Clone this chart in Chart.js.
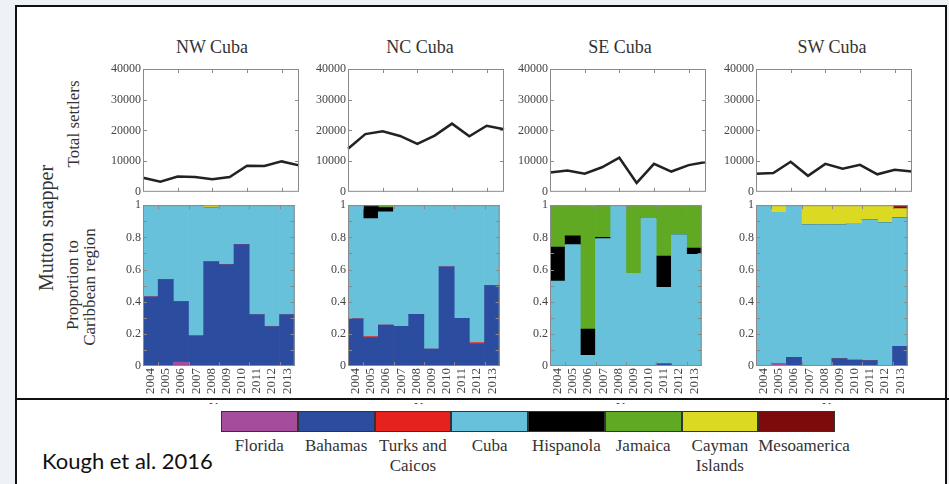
<!DOCTYPE html>
<html lang="en">
<head>
<meta charset="UTF-8">
<title>Mutton snapper settlers</title>
<style>
  html, body { margin: 0; padding: 0; width: 949px; height: 484px; overflow: hidden; background: #eef1f5; }
  body { position: relative; font-family: "Liberation Serif", "Times New Roman", serif; color: #333; }
  .frame { position: absolute; left: 15px; top: 5px; width: 932px; height: 520px; border: 2px solid #111; background: #fff; box-sizing: border-box; }
  .divider { position: absolute; left: 15px; top: 398px; width: 934px; height: 2px; background: #111; }
  canvas { position: absolute; }
  .title { position: absolute; top: 37px; font-size: 18px; transform: translateX(-50%); white-space: nowrap; }
  .vlabel { position: absolute; white-space: nowrap; transform: translate(-50%, -50%) rotate(-90deg); line-height: 1; }
  .yearclip { position: absolute; top: 400px; height: 4px; width: 40px; overflow: hidden; transform: translateX(-50%); text-align: center; }
  .yearclip span { position: relative; top: -3px; font-size: 13px; line-height: 16px; color: #333; }
  .legend { position: absolute; left: 221px; top: 411px; display: flex; }
  .legend div { width: 76.75px; height: 21px; box-sizing: border-box; border: 1px solid #333; }
  .leglabels { position: absolute; left: 221px; top: 436px; display: flex; }
  .leglabels div { width: 76.75px; text-align: center; font-size: 17px; line-height: 20px; color: #333; }
  .cite { position: absolute; left: 42px; top: 447px; font-family: "Lato", "Open Sans", sans-serif; font-size: 22px; color: #111; }
</style>
</head>
<body>
<div class="frame"></div>
<div class="divider"></div>

<div class="vlabel" style="left:46px; top:228px; font-size:20px;">Mutton snapper</div>
<div class="vlabel" style="left:73px; top:124px; font-size:17px;">Total settlers</div>
<div class="vlabel" style="left:72px; top:285px; font-size:17px;">Proportion to</div>
<div class="vlabel" style="left:89px; top:287px; font-size:17px;">Caribbean region</div>

<div id="titles"></div>
<div id="charts"></div>

<div class="legend" id="legend"></div>
<div class="leglabels" id="leglabels"></div>
<div class="cite">Kough et al. 2016</div>

<script src="https://cdn.jsdelivr.net/npm/chart.js"></script>
<script>
  // ---- data ----
  const years = ['2004', '2005', '2006', '2007', '2008', '2009', '2010', '2011', '2012', '2013'];
  const panels = ['NW Cuba', 'NC Cuba', 'SE Cuba', 'SW Cuba'];
  const regions = ['Florida', 'Bahamas', 'Turks and\nCaicos', 'Cuba', 'Hispanola', 'Jamaica', 'Cayman\nIslands', 'Mesoamerica'];
  const regionColors = ['#a54c9d', '#2b4c9f', '#e6221f', '#68c1da', '#000000', '#60a922', '#dcd923', '#7d0b0b'];

  const settlersNW = [4600, 3300, 5000, 4800, 4100, 4800, 8500, 8400, 9900, 8600];
  const settlersNC = [14000, 18800, 19700, 18200, 15600, 18300, 22200, 18100, 21500, 20400];
  const settlersSE = [6300, 6900, 5900, 8000, 11100, 2900, 9100, 6600, 8700, 9700];
  const settlersSW = [5900, 6100, 9800, 5200, 9100, 7500, 8800, 5700, 7200, 6600];

  // rows follow regions order: Florida, Bahamas, Turks, Cuba, Hispanola, Jamaica, Cayman, Mesoamerica
  const shareNW = [
    [0, 0, 0.025, 0, 0, 0, 0, 0, 0, 0],
    [0.43, 0.537, 0.375, 0.187, 0.65, 0.63, 0.755, 0.32, 0.245, 0.32],
    [0, 0, 0, 0, 0, 0, 0, 0, 0, 0],
    [0.57, 0.463, 0.6, 0.813, 0.335, 0.37, 0.245, 0.68, 0.755, 0.68],
    [0, 0, 0, 0, 0, 0, 0, 0, 0, 0],
    [0, 0, 0, 0, 0, 0, 0, 0, 0, 0],
    [0, 0, 0, 0, 0.015, 0, 0, 0, 0, 0],
    [0, 0, 0, 0, 0, 0, 0, 0, 0, 0]
  ];
  const shareNC = [
    [0, 0, 0, 0, 0, 0, 0, 0, 0, 0],
    [0.293, 0.175, 0.254, 0.247, 0.322, 0.106, 0.617, 0.297, 0.14, 0.5],
    [0, 0.008, 0, 0, 0, 0, 0, 0, 0.006, 0],
    [0.707, 0.734, 0.704, 0.753, 0.678, 0.894, 0.383, 0.703, 0.854, 0.5],
    [0, 0.083, 0.027, 0, 0, 0, 0, 0, 0, 0],
    [0, 0, 0.015, 0, 0, 0, 0, 0, 0, 0],
    [0, 0, 0, 0, 0, 0, 0, 0, 0, 0],
    [0, 0, 0, 0, 0, 0, 0, 0, 0, 0]
  ];
  const shareSE = [
    [0, 0, 0, 0, 0, 0, 0, 0, 0, 0],
    [0, 0, 0, 0, 0, 0, 0, 0.014, 0, 0],
    [0, 0, 0, 0, 0, 0, 0, 0, 0, 0],
    [0.528, 0.755, 0.067, 0.792, 1.0, 0.576, 0.923, 0.476, 0.817, 0.694],
    [0.212, 0.054, 0.163, 0.008, 0, 0, 0, 0.194, 0, 0.04],
    [0.26, 0.191, 0.765, 0.195, 0, 0.418, 0.072, 0.316, 0.183, 0.266],
    [0, 0, 0.005, 0, 0, 0, 0, 0, 0, 0],
    [0, 0, 0, 0.005, 0, 0.006, 0.005, 0, 0, 0]
  ];
  const shareSW = [
    [0, 0.017, 0, 0, 0, 0, 0, 0, 0, 0],
    [0, 0, 0.054, 0, 0, 0.046, 0.037, 0.033, 0, 0.123],
    [0, 0, 0, 0, 0, 0, 0, 0, 0, 0],
    [1.0, 0.939, 0.946, 0.879, 0.879, 0.833, 0.851, 0.877, 0.892, 0.798],
    [0, 0, 0, 0, 0, 0, 0, 0, 0, 0],
    [0, 0, 0, 0, 0, 0, 0, 0, 0, 0],
    [0, 0.044, 0, 0.121, 0.121, 0.121, 0.112, 0.09, 0.108, 0.058],
    [0, 0, 0, 0, 0, 0, 0, 0, 0, 0.021]
  ];

  const settlers = [settlersNW, settlersNC, settlersSE, settlersSW];
  const shares = [shareNW, shareNC, shareSE, shareSW];

  // ---- layout ----
  const plotLeft = [143, 348, 550, 756];
  const plotW = 156;
  const titleX = [212, 420, 620, 832];
  const serif = "'Liberation Serif', 'Times New Roman', serif";

  Chart.defaults.font.family = serif;
  Chart.defaults.color = '#444';

  // gray box around the axes plus small inward tick marks (matlab look)
  const boxTicks = {
    id: 'boxTicks',
    afterDatasetsDraw(chart, args, opts) {
      const { ctx, chartArea: a, scales } = chart;
      const len = 4;
      ctx.save();
      ctx.strokeStyle = opts.color || '#8a8a8a';
      ctx.lineWidth = 1;
      ctx.strokeRect(a.left + 0.5, a.top + 0.5, a.width - 1, a.height - 1);
      ctx.beginPath();
      (opts.yAt || []).forEach(v => {
        const py = Math.round(scales.y.getPixelForValue(v)) + 0.5;
        ctx.moveTo(a.left, py); ctx.lineTo(a.left + len, py);
        ctx.moveTo(a.right, py); ctx.lineTo(a.right - len, py);
      });
      (opts.xAt || []).forEach(v => {
        const px = Math.round(scales.x.getPixelForValue(v)) + 0.5;
        ctx.moveTo(px, a.top); ctx.lineTo(px, a.top + len);
        ctx.moveTo(px, a.bottom); ctx.lineTo(px, a.bottom - len);
      });
      ctx.stroke();
      ctx.restore();
    }
  };

  function addCanvas(left, top, w, h) {
    const c = document.createElement('canvas');
    c.width = w; c.height = h;
    c.style.left = left + 'px'; c.style.top = top + 'px';
    c.style.width = w + 'px'; c.style.height = h + 'px';
    document.getElementById('charts').appendChild(c);
    return c;
  }

  panels.forEach((name, p) => {
    const t = document.createElement('div');
    t.className = 'title';
    t.style.left = titleX[p] + 'px';
    t.textContent = name;
    document.getElementById('titles').appendChild(t);

    const y = document.createElement('div');
    y.className = 'yearclip';
    y.style.left = (plotLeft[p] + plotW / 2) + 'px';
    y.innerHTML = '<span>Year</span>';
    document.body.appendChild(y);

    // total settlers line
    const c1 = addCanvas(plotLeft[p] - 40, 58, 40 + plotW + 6, 143);
    new Chart(c1, {
      type: 'line',
      data: {
        labels: years,
        datasets: [{
          data: settlers[p],
          borderColor: '#222',
          borderWidth: 2.5,
          pointRadius: 0,
          tension: 0
        }]
      },
      options: {
        responsive: false,
        animation: false,
        layout: { padding: { top: 11, right: 6, left: 0, bottom: 0 } },
        plugins: {
          legend: { display: false },
          tooltip: { enabled: false },
          boxTicks: { xAt: [2, 4, 6, 8], yAt: [10000, 20000, 30000] }
        },
        scales: {
          x: {
            ticks: { display: false },
            grid: { display: false, drawTicks: false },
            border: { display: false },
            afterFit: s => { s.height = 8; }
          },
          y: {
            min: 0, max: 40000,
            ticks: {
              stepSize: 10000, padding: 2, color: '#444',
              font: { family: serif, size: 12 },
              callback: v => String(v)
            },
            grid: { display: false, drawTicks: false },
            border: { display: false },
            afterFit: s => { s.width = 40; }
          }
        }
      },
      plugins: [boxTicks]
    });

    // proportion stacked bars
    const c2 = addCanvas(plotLeft[p] - 40, 196, 40 + plotW + 6, 208);
    new Chart(c2, {
      type: 'bar',
      data: {
        labels: years,
        datasets: regions.map((r, k) => ({
          label: r,
          data: shares[p][k],
          backgroundColor: regionColors[k],
          borderWidth: 0,
          barPercentage: 1,
          categoryPercentage: 1
        }))
      },
      options: {
        responsive: false,
        animation: false,
        layout: { padding: { top: 9, right: 6, left: 0, bottom: 0 } },
        plugins: {
          legend: { display: false },
          tooltip: { enabled: false },
          boxTicks: { xAt: [0.5, 2.5, 4.5, 6.5, 8.5], yAt: [0.1, 0.2, 0.3, 0.4, 0.5, 0.6, 0.7, 0.8, 0.9] }
        },
        scales: {
          x: {
            stacked: true,
            ticks: {
              autoSkip: false, maxRotation: 90, minRotation: 90, padding: 2,
              color: '#444', font: { family: serif, size: 13 }
            },
            grid: { display: false, drawTicks: false },
            border: { display: false },
            afterFit: s => { s.height = 38; }
          },
          y: {
            stacked: true,
            min: 0, max: 1,
            ticks: {
              stepSize: 0.2, padding: 2, color: '#444',
              font: { family: serif, size: 12 },
              callback: v => String(Math.round(v * 10) / 10)
            },
            grid: { display: false, drawTicks: false },
            border: { display: false },
            afterFit: s => { s.width = 40; }
          }
        }
      },
      plugins: [boxTicks]
    });
  });

  // legend strip
  const legend = document.getElementById('legend');
  const leglabels = document.getElementById('leglabels');
  regions.forEach((r, k) => {
    const box = document.createElement('div');
    box.style.background = regionColors[k];
    legend.appendChild(box);
    const lab = document.createElement('div');
    lab.innerHTML = r.replace('\n', '<br>');
    leglabels.appendChild(lab);
  });
</script>
</body>
</html>
